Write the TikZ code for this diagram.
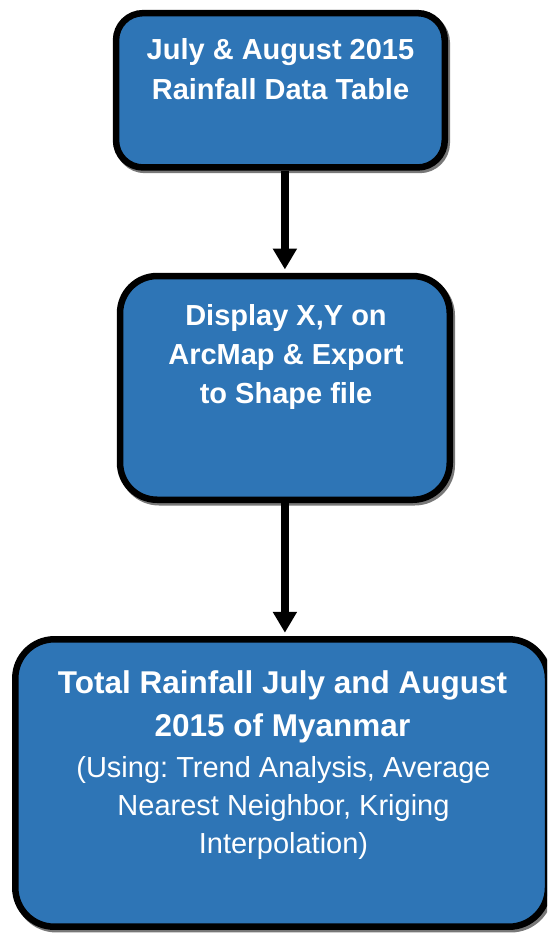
\documentclass[tikz,border=0pt]{standalone}
\usepackage{fontspec}
\setmainfont{Liberation Sans}
\usetikzlibrary{arrows.meta}
\definecolor{boxblue}{RGB}{46,117,182}
\definecolor{shadowgray}{RGB}{120,120,120}
\tikzset{
  flowbox/.style={rectangle, draw=black, line width=6.5pt, fill=boxblue,
    inner sep=0pt,
    preaction={draw=shadowgray, line width=6.5pt,
      transform canvas={shift={(2pt,-2.5pt)}}}},
  boxtext/.style={text=white, align=center, inner sep=0pt, anchor=north},
  flowarrow/.style={line width=8pt, -{Triangle[width=23pt,length=21pt]},
    shorten >=3.3pt}
}
\frenchspacing
\begin{document}
\begin{tikzpicture}[x=1pt,y=-1pt]
\useasboundingbox (0,0) rectangle (547,936);
\clip (0,0) rectangle (547,936);
\fill[white] (0,0) rectangle (547,936);
% boxes
\node[flowbox, rounded corners=27pt, minimum width=328.7pt, minimum height=154.3pt] (b1) at (280.4,90.3) {};
\node[flowbox, rounded corners=37pt, minimum width=329.7pt, minimum height=223.7pt] (b2) at (284.9,387.9) {};
\node[flowbox, rounded corners=39pt, minimum width=532.7pt, minimum height=287.4pt] (b3) at (281.65,783) {};
% texts
\node[boxtext, font=\bfseries\fontsize{29}{40}\selectfont] (t1) at (280.5,37.8)
  {July \& August 2015\\Rainfall Data Table};
\node[boxtext, font=\bfseries\fontsize{29}{39}\selectfont] (t2) at (286,303.8)
  {Display X,Y on\\ArcMap \& Export\\to Shape file};
\node[boxtext, font=\bfseries\fontsize{31.5}{43}\selectfont] (t3) at (282.5,670)
  {Total Rainfall July and August\\2015 of Myanmar};
\node[boxtext, font=\fontsize{29}{38}\selectfont] (t4) at (283.5,756)
  {(Using: Trend Analysis, Average\\Nearest Neighbor, Kriging\\Interpolation)};
% arrows
\draw[flowarrow] (b1.south -| b2.north) -- (b2.north);
\draw[flowarrow] (b2.south) -- (b2.south |- b3.north);
\end{tikzpicture}
\end{document}
